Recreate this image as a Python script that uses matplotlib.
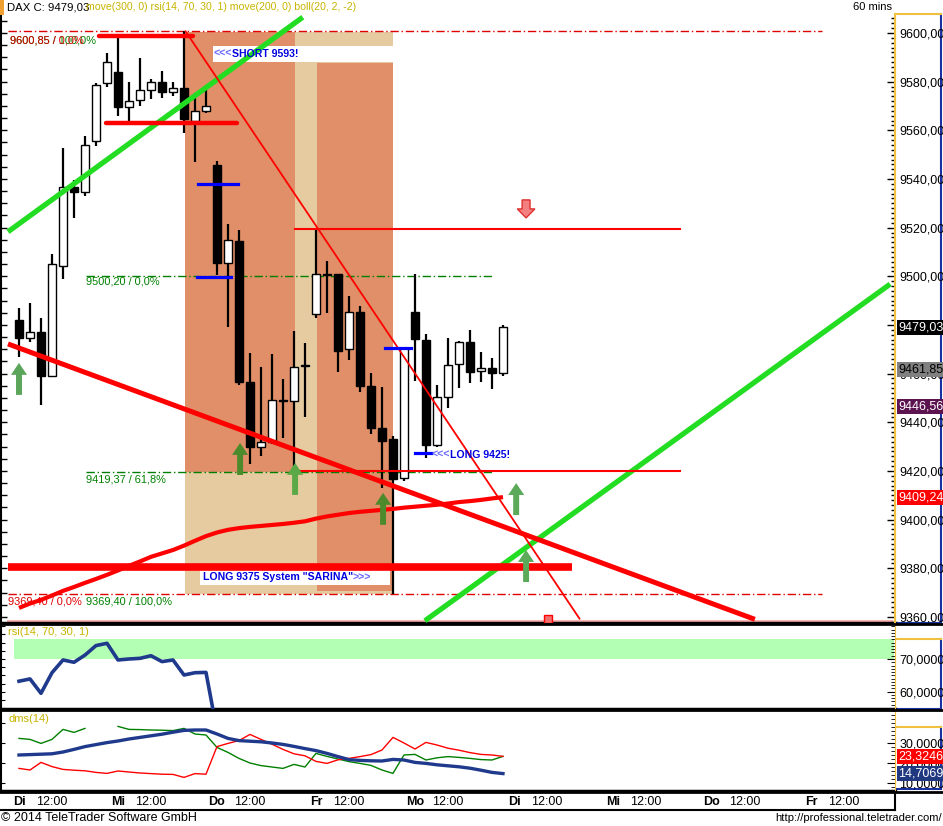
import matplotlib
matplotlib.use('Agg')
import matplotlib.pyplot as plt
from matplotlib.patches import Rectangle, Polygon
from matplotlib.ticker import FuncFormatter, MultipleLocator, FixedLocator
from matplotlib.lines import Line2D
import numpy as np

plt.rcParams['font.family'] = ['Liberation Sans', 'DejaVu Sans']

# ---------------- data ----------------
opens = [9482.1, 9474.7, 9477.1, 9459.0, 9504.2, 9536.7, 9534.7, 9555.6, 9579.5, 9584.0,
         9569.6, 9572.5, 9576.6, 9579.9, 9575.8, 9577.4, 9563.8, 9568.0, 9545.8, 9505.5,
         9514.5, 9456.6, 9429.9, 9432.0, 9448.8, 9448.8, 9463.0, 9484.5, 9500.5, 9501.0,
         9470.1, 9485.3, 9454.9, 9437.7, 9433.1, 9417.1, 9485.3, 9473.8, 9430.7, 9450.4,
         9464.0, 9473.0, 9461.1, 9462.3, 9460.3]
highs = [9487.0, 9489.0, 9483.0, 9509.0, 9552.7, 9539.6, 9557.7, 9579.5, 9591.8, 9598.0,
         9579.9, 9589.7, 9581.0, 9584.4, 9580.0, 9600.85, 9575.3, 9576.6, 9547.4, 9521.5,
         9519.0, 9468.5, 9462.7, 9468.0, 9457.8, 9477.5, 9472.6, 9519.0, 9506.3, 9501.0,
         9492.0, 9487.8, 9460.3, 9454.5, 9434.5, 9470.5, 9501.0, 9476.3, 9455.3, 9474.7,
         9473.4, 9478.0, 9469.0, 9466.4, 9480.0]
lows = [9466.8, 9473.0, 9447.0, 9459.0, 9498.9, 9524.0, 9533.0, 9553.6, 9577.8, 9565.9,
        9564.0, 9570.0, 9573.0, 9573.3, 9574.0, 9559.0, 9547.0, 9567.0, 9500.5, 9479.2,
        9455.3, 9422.9, 9426.2, 9431.0, 9433.6, 9418.0, 9442.0, 9482.9, 9485.0, 9460.7,
        9465.6, 9452.5, 9435.2, 9413.0, 9369.4, 9416.0, 9457.0, 9425.3, 9430.0, 9445.9,
        9454.0, 9456.2, 9456.6, 9453.7, 9459.0]
closes = [9474.7, 9477.1, 9459.0, 9505.0, 9536.7, 9534.7, 9554.0, 9578.6, 9588.0, 9569.6,
          9572.0, 9576.6, 9579.9, 9575.8, 9577.4, 9564.7, 9568.0, 9570.0, 9505.5, 9515.0,
          9456.6, 9429.9, 9432.0, 9449.2, 9449.0, 9462.7, 9463.2, 9501.0, 9500.7, 9469.3,
          9485.3, 9454.9, 9437.7, 9432.3, 9416.7, 9470.5, 9474.2, 9430.7, 9450.4, 9463.6,
          9473.0, 9460.7, 9462.3, 9460.3, 9479.03]

ma200 = [9363.7, 9365.5, 9367.0, 9368.8, 9370.7, 9372.3, 9374.0, 9375.6, 9377.3, 9379.1,
         9381.0, 9382.8, 9384.7, 9386.1, 9387.5, 9389.3, 9391.3, 9393.2, 9394.7, 9395.8,
         9396.5, 9397.0, 9397.4, 9397.8, 9398.2, 9398.7, 9399.3, 9400.4, 9401.3, 9402.0,
         9402.7, 9403.2, 9403.6, 9404.0, 9404.4, 9404.9, 9405.3, 9405.7, 9406.1, 9406.6,
         9407.2, 9407.6, 9408.1, 9408.7, 9409.24]

rsi = [63.2, 63.9, 59.5, 65.8, 69.7, 69.0, 71.2, 74.1, 74.8, 69.7,
       70.0, 70.2, 71.0, 69.2, 69.7, 65.1, 65.8, 65.9, 48.0]

adx = [24.0, 24.2, 24.4, 24.6, 25.5, 26.8, 28.2, 29.2, 30.2, 31.0,
       32.0, 32.8, 33.6, 34.4, 35.4, 36.3, 36.5, 36.5, 34.5, 32.3,
       31.2, 30.9, 30.6, 30.0, 29.3, 28.3, 27.2, 26.2, 24.8, 23.2,
       21.7, 21.3, 21.1, 21.0, 21.8, 21.5, 20.3, 19.8, 19.1, 18.6,
       18.1, 17.4, 16.4, 15.3, 14.7069]
di_minus = [17.3, 16.5, 20.3, 18.2, 16.8, 16.4, 16.1, 15.3, 14.8, 16.0,
            15.5, 15.0, 14.7, 14.4, 14.3, 12.8, 14.7, 14.4, 28.2, 29.8,
            31.2, 34.3, 31.8, 29.4, 26.8, 24.6, 23.6, 20.8, 19.8, 21.6,
            22.3, 23.2, 24.2, 26.5, 32.8, 30.0, 27.0, 30.3, 29.0, 27.4,
            26.4, 25.2, 24.3, 24.0, 23.3246]
di_plus = [32.3, 31.8, 29.8, 31.8, 36.8, 35.3, 37.3, np.nan, np.nan, 38.3,
           36.8, 36.7, 36.5, 36.4, 36.2, 37.3, 34.5, 34.0, 27.8, 25.3,
           22.3, 20.0, 18.7, 18.0, 17.3, 19.3, 18.0, 24.8, 23.3, 22.0,
           20.7, 19.8, 18.8, 16.5, 14.8, 24.0, 24.3, 21.5, 22.6, 23.2,
           22.8, 22.3, 21.7, 21.5, 23.3]

day_names = ['Di', 'Mi', 'Do', 'Fr', 'Mo', 'Di', 'Mi', 'Do', 'Fr']
bars_per_day = 9
noon_offset = 3

price_ticks = [9360, 9380, 9400, 9420, 9440, 9460, 9480, 9500, 9520, 9540, 9560, 9580, 9600]
rsi_ticks = [60, 70]
dms_ticks = [10, 20, 30]

# drawings (x = bar index, y = price)
green_channel_top = [(-1.0, 9518.3), (25.8, 9606.5)]
green_channel_bot = [(36.9, 9358.4), (79.2, 9496.8)]
red_trend_thick = [(-1.0, 9472.2), (66.9, 9359.0)]
red_trend_thin = [(15.1, 9601.0), (51.0, 9359.0)]
thick_red_levels = [(9598.8, 7.3, 15.8), (9563.1, 7.9, 19.8)]
support_level = (9380.5, -1.0, 50.3)
thin_red_levels = [(9519.3, 25.1, 60.1), (9420.1, 25.1, 60.1)]
blue_levels = [(9538.0, 16.3, 19.9), (9499.7, 16.2, 19.3), (9470.4, 33.3, 35.6), (9427.3, 36.0, 37.5)]
fib_red = [9600.85, 9369.40]
fib_green = [9500.20, 9419.37]
up_arrows = [(0.0, 9464.4, '#5aa55a'), (20.1, 9431.5, '#4c8a2c'), (25.1, 9423.3, '#5aa846'),
             (33.1, 9411.0, '#4c8a2c'), (45.2, 9415.0, '#5aaa5a'), (46.1, 9387.5, '#5aaa5a')]
down_arrow = (46.1, 9524.0)
price_tags = [(9479.03, '#000000', 'white'), (9461.85, '#808080', 'black'),
              (9446.56, '#5c1450', 'white'), (9409.24, '#ff0000', 'white')]

# ---------------- layout ----------------
W, H = 943, 826
fig = plt.figure(figsize=(W / 100, H / 100), dpi=100)


def rect(x0, y0, x1, y1):
    return [x0 / W, 1 - y1 / H, (x1 - x0) / W, (y1 - y0) / H]


XL = (-1.636, 79.64)
OLIVE = '#c8b400'
YEL = '#f0c040'
BLUE_AX = '#1830a0'


def comma_fmt(dec):
    return FuncFormatter(lambda v, p: ('{:.%df}' % dec).format(v).replace('.', ','))


def right_box(y0, y1):
    b = fig.add_axes(rect(895, y0, 941, y1))
    b.set_facecolor('none')
    b.set_xticks([]); b.set_yticks([])
    b.spines['left'].set_color(YEL); b.spines['top'].set_color(YEL)
    b.spines['right'].set_color(BLUE_AX); b.spines['bottom'].set_color(BLUE_AX)
    for s in b.spines.values():
        s.set_linewidth(1.5)
    return b


right_box(14, 623)
right_box(639, 709)
right_box(727, 789)

# ---------------- main panel ----------------
ax = fig.add_axes(rect(1, 15, 895, 623))
ax.set_xlim(*XL)
ax.set_ylim(9357.5, 9607.4)
for s in ['top', 'right']:
    ax.spines[s].set_visible(False)
ax.spines['bottom'].set_linewidth(2.5)
ax.spines['left'].set_linewidth(1.5)
ax.set_xticks([])
ax.yaxis.set_major_locator(MultipleLocator(5))
ax.tick_params(axis='y', direction='in', length=4, labelleft=False, width=1)

# shading
ax.add_patch(Rectangle((15.09, 9369.4), 34.0 - 15.09, 9600.3 - 9369.4, fc='#e6cba0', ec='none', zorder=1))
ax.add_patch(Rectangle((15.09, 9419.37), 25.09 - 15.09, 9600.3 - 9419.37, fc='#e08f68', ec='none', zorder=1.1))
ax.add_patch(Rectangle((27.09, 9370.8), 34.0 - 27.09, 9587.7 - 9370.8, fc='#e08f68', ec='none', zorder=1.1))
ax.add_patch(Rectangle((17.6, 9588.1), 34.0 - 17.6, 9594.7 - 9588.1, fc='white', ec='none', zorder=1.2))
ax.add_patch(Rectangle((16.45, 9373.2), 33.7 - 16.45, 9379.3 - 9373.2, fc='white', ec='none', zorder=1.2))

# fib lines
dd = (0, (6, 2, 1, 2))
for lv in fib_red:
    ax.plot([-1.0, 73.0], [lv, lv], color='#e00000', lw=1, ls=dd, zorder=1.5)
for lv in fib_green:
    ax.plot([6.1, 43.0], [lv, lv], color='#008000', lw=1, ls=dd, zorder=1.5)
ax.plot([-1.0, 79.3], [9358.4, 9358.4], color='#ffb4b4', lw=2.2, zorder=1.5)

fs_lab = 7.9
ax.text(-0.8, 9597.1, '9600,85 / 100,0%', color='#008000', fontsize=fs_lab, va='center', zorder=2)
ax.text(-0.8, 9597.1, '9600,85 / 0,0%', color='#e00000', fontsize=fs_lab, va='center', zorder=2.1)
ax.text(6.1, 9497.7, '9500,20 / 0,0%', color='#008000', fontsize=fs_lab, va='center', zorder=2)
ax.text(6.1, 9416.3, '9419,37 / 61,8%', color='#008000', fontsize=fs_lab, va='center', zorder=2)
ax.text(-1.0, 9366.2, '9369,40 / 0,0%', color='#e00000', fontsize=fs_lab, va='center', zorder=2)
ax.text(6.1, 9366.2, '9369,40 / 100,0%', color='#008000', fontsize=fs_lab, va='center', zorder=2)

# moving average
idx = np.arange(len(closes))
ax.plot(idx, ma200, color='#ff0000', lw=3.0, zorder=3.5, solid_capstyle='butt')

# candles
for i in range(len(closes)):
    o, h, l, c = opens[i], highs[i], lows[i], closes[i]
    ax.plot([i, i], [l, h], color='black', lw=1.6, zorder=3, solid_capstyle='butt')
    bottom = min(o, c)
    height = max(abs(c - o), 0.35)
    fc = 'white' if c >= o else 'black'
    ax.add_patch(Rectangle((i - 0.38, bottom), 0.76, height, fc=fc, ec='black', lw=1.0, zorder=3.1))

# trend lines
for seg, col, lw in [(green_channel_top, '#22dd22', 3.8), (green_channel_bot, '#22dd22', 3.8),
                     (red_trend_thick, '#ff0000', 3.6), (red_trend_thin, '#ff0000', 1.3)]:
    xs, ys = zip(*seg)
    ax.plot(xs, ys, color=col, lw=lw, zorder=4, solid_capstyle='butt')
for lv, x0, x1 in thick_red_levels:
    ax.plot([x0, x1], [lv, lv], color='#ff0000', lw=3.2, zorder=4, solid_capstyle='round')
lv, x0, x1 = support_level
ax.plot([x0, x1], [lv, lv], color='#ff0000', lw=5.5, zorder=4, solid_capstyle='butt')
for lv, x0, x1 in thin_red_levels:
    ax.plot([x0, x1], [lv, lv], color='#ff0000', lw=1.5, zorder=4)
for lv, x0, x1 in blue_levels:
    ax.plot([x0, x1], [lv, lv], color='#0000ff', lw=2.3, zorder=4.2)

# arrows
hw, sw, hh, tot = 0.73, 0.27, 4.9, 13.15
for xi, tip, col in up_arrows:
    pts = [(xi, tip), (xi + hw, tip - hh), (xi + sw, tip - hh), (xi + sw, tip - tot),
           (xi - sw, tip - tot), (xi - sw, tip - hh), (xi - hw, tip - hh)]
    ax.add_patch(Polygon(pts, closed=True, fc=col, ec='none', zorder=5))
xi, tip = down_arrow
pts = [(xi, tip), (xi + 0.8, tip + 3.7), (xi + 0.36, tip + 3.7), (xi + 0.36, tip + 7.4),
       (xi - 0.36, tip + 7.4), (xi - 0.36, tip + 3.7), (xi - 0.8, tip + 3.7)]
ax.add_patch(Polygon(pts, closed=True, fc='#f38080', ec='#e03030', lw=1, zorder=5))
ax.add_patch(Rectangle((47.7, 9357.6), 0.75, 3.3, fc='#f07070', ec='#ff0000', lw=1, zorder=5, clip_on=True))

# labels
fs_b = 7.6
t1 = ax.text(17.65, 9591.4, '<<<', color='#6a6aff', fontsize=fs_b, fontweight='bold', va='center', zorder=6)
ax.annotate('SHORT 9593!', xy=(1, 0.5), xycoords=t1, va='center', ha='left', color='#0000e0',
            fontsize=fs_b, fontweight='bold', zorder=6)
t2 = ax.text(37.5, 9426.6, '<<<', color='#6a6aff', fontsize=fs_b, fontweight='bold', va='center', zorder=6)
ax.annotate('LONG 9425!', xy=(1, 0.5), xycoords=t2, va='center', ha='left', color='#0000e0',
            fontsize=fs_b, fontweight='bold', zorder=6)
t3 = ax.text(16.7, 9376.3, 'LONG 9375 System "SARINA"', color='#0000e0', fontsize=fs_b,
             fontweight='bold', va='center', zorder=2.5)
ax.annotate('>>>', xy=(1, 0.5), xycoords=t3, va='center', ha='left', color='#6a6aff',
            fontsize=fs_b, fontweight='bold', zorder=2.5)

# right axis
tw = ax.twinx()
tw.set_ylim(ax.get_ylim())
tw.set_xlim(*XL)
for s in ['top', 'left', 'bottom']:
    tw.spines[s].set_visible(False)
tw.spines['right'].set_color(YEL)
tw.spines['right'].set_linewidth(1.5)
tw.yaxis.set_major_locator(FixedLocator(price_ticks))
tw.yaxis.set_minor_locator(MultipleLocator(2))
tw.yaxis.set_major_formatter(comma_fmt(2))
tw.tick_params(axis='y', which='major', direction='in', length=6, width=1, labelsize=9, pad=3, color='black')
tw.tick_params(axis='y', which='minor', direction='in', length=3, width=1, color='black')
for val, bg, fgc in price_tags:
    tw.text(1.0035, val, '{:.2f}'.format(val).replace('.', ','), transform=tw.get_yaxis_transform(),
            fontsize=9, color=fgc, va='center', ha='left', clip_on=False, zorder=10,
            bbox=dict(boxstyle='square,pad=0.12', fc=bg, ec='none'))

# ---------------- RSI panel ----------------
ar = fig.add_axes(rect(1, 625, 895, 709))
ar.set_xlim(*XL)
ar.set_ylim(54.7, 80.4)
ar.set_xticks([])
for s in ['top', 'right']:
    ar.spines[s].set_visible(False)
ar.spines['bottom'].set_linewidth(2.5)
ar.spines['left'].set_linewidth(1.5)
ar.yaxis.set_major_locator(MultipleLocator(2.5))
ar.tick_params(axis='y', direction='in', length=3, labelleft=False)
ar.add_patch(Rectangle((-0.45, 70), 80.0, 6.1, fc='#b3ffb3', ec='none', zorder=1))
ar.plot(np.arange(len(rsi)), rsi, color='#1f3a8c', lw=2.6, zorder=3)
ar.text(0.008, 0.92, 'rsi(14, 70, 30, 1)', transform=ar.transAxes, color=OLIVE, fontsize=8, va='center')
rt = ar.twinx()
rt.set_ylim(ar.get_ylim())
for s in ['top', 'left', 'bottom']:
    rt.spines[s].set_visible(False)
rt.spines['right'].set_color(YEL)
rt.yaxis.set_major_locator(FixedLocator(rsi_ticks))
rt.yaxis.set_minor_locator(MultipleLocator(1))
rt.yaxis.set_major_formatter(comma_fmt(4))
rt.tick_params(axis='y', which='major', direction='in', length=6, labelsize=9, pad=3)
rt.tick_params(axis='y', which='minor', direction='in', length=3)

# ---------------- DMS panel ----------------
ad = fig.add_axes(rect(1, 711, 895, 791))
ad.set_xlim(*XL)
ad.set_ylim(6, 46)
ad.set_xticks([])
for s in ['top', 'right']:
    ad.spines[s].set_visible(False)
ad.spines['bottom'].set_linewidth(2.5)
ad.spines['left'].set_linewidth(1.5)
ad.yaxis.set_major_locator(MultipleLocator(10))
ad.tick_params(axis='y', direction='in', length=3, labelleft=False)
ad.plot(idx, di_plus, color='#008000', lw=1.0, zorder=3)
ad.plot(idx, di_minus, color='#ff0000', lw=1.0, zorder=3)
ad.plot(idx, adx, color='#1f3a8c', lw=2.4, zorder=4)
ad.text(0.008, 0.9, 'dms(14)', transform=ad.transAxes, color=OLIVE, fontsize=8, va='center')
dt = ad.twinx()
dt.set_ylim(ad.get_ylim())
for s in ['top', 'left', 'bottom']:
    dt.spines[s].set_visible(False)
dt.spines['right'].set_color(YEL)
dt.yaxis.set_major_locator(FixedLocator(dms_ticks))
dt.yaxis.set_minor_locator(MultipleLocator(2))
dt.yaxis.set_major_formatter(comma_fmt(4))
dt.tick_params(axis='y', which='major', direction='in', length=6, labelsize=9, pad=3)
dt.tick_params(axis='y', which='minor', direction='in', length=3)
for val, bg in [(di_minus[-1], '#ff0000'), (adx[-1], '#203880')]:
    dt.text(1.0035, val, '{:.4f}'.format(val).replace('.', ','), transform=dt.get_yaxis_transform(),
            fontsize=9, color='white', va='center', ha='left', clip_on=False, zorder=10,
            bbox=dict(boxstyle='square,pad=0.12', fc=bg, ec='none'))

# ---------------- time axis ----------------
at = fig.add_axes(rect(1, 792, 895, 810))
at.set_xlim(*XL)
at.set_ylim(0, 1)
at.set_xticks([]); at.set_yticks([])
at.spines['top'].set_visible(False)
at.spines['left'].set_visible(False)
at.spines['bottom'].set_linewidth(1.5)
at.spines['right'].set_linewidth(1.5)
for k, d in enumerate(day_names):
    at.text(k * bars_per_day, 0.45, d, fontsize=9, fontweight='bold', ha='center', va='center')
    at.text(k * bars_per_day + noon_offset, 0.45, '12:00', fontsize=9, ha='center', va='center')

# ---------------- header / footer ----------------
fig.patches.append(Rectangle((0, 1 - 15 / H), 4 / W, 15 / H, transform=fig.transFigure, fc='#f0a030', ec='none'))
th = fig.text(7 / W, 1 - 7.5 / H, 'DAX C: 9479,03', fontsize=8.2, va='center', ha='left', color='black')
fig.text(86 / W, 1 - 7.5 / H, 'move(300, 0) rsi(14, 70, 30, 1) move(200, 0) boll(20, 2, -2)',
         fontsize=7.6, va='center', ha='left', color=OLIVE)
fig.text(892 / W, 1 - 7.5 / H, '60 mins', fontsize=8, va='center', ha='right', color='black')
fig.text(1 / W, 1 - 818 / H, '\u00a9 2014 TeleTrader Software GmbH', fontsize=9, va='center', ha='left')
fig.text(942 / W, 1 - 818 / H, 'http://professional.teletrader.com/', fontsize=8.1, va='center', ha='right')
fig.lines.append(Line2D([0, 1], [1 - 624 / H, 1 - 624 / H], transform=fig.transFigure, color='black', lw=2))
fig.lines.append(Line2D([0, 1], [1 - 710 / H, 1 - 710 / H], transform=fig.transFigure, color='black', lw=2))
fig.lines.append(Line2D([0, 1], [1 - 792 / H, 1 - 792 / H], transform=fig.transFigure, color='black', lw=2))

fig.savefig('out.png', dpi=100)
